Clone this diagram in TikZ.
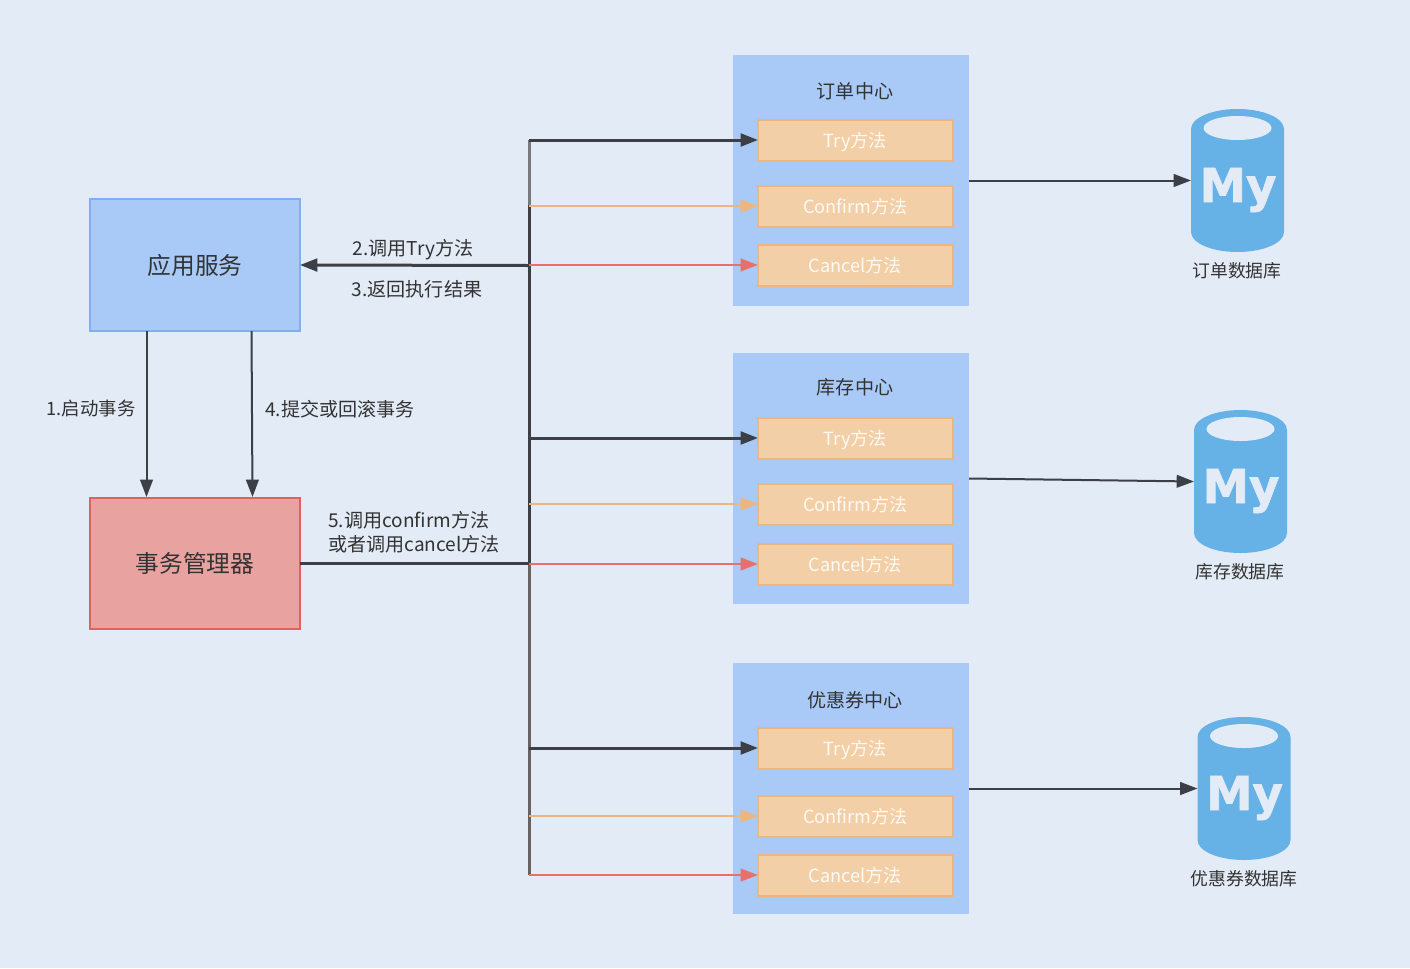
\documentclass[tikz,border=0pt]{standalone}
\usepackage{fontspec}
\setmainfont{Noto Sans CJK SC}
\newfontfamily\logofont{DejaVu Sans Bold}[FakeBold=1.5]
\usetikzlibrary{positioning,arrows.meta,shapes.geometric}
\definecolor{pagebg}{HTML}{E3EBF6}
\definecolor{bluefill}{HTML}{A9CAF7}
\definecolor{blueline}{HTML}{7FAEF2}
\definecolor{redfill}{HTML}{E8A3A0}
\definecolor{redline}{HTML}{E0625F}
\definecolor{orfill}{HTML}{F2CFA6}
\definecolor{orline}{HTML}{EDB67E}
\definecolor{dbblue}{HTML}{66B2E6}
\definecolor{darkline}{HTML}{3C4046}
\definecolor{lowline}{HTML}{666260}
\definecolor{redarrow}{HTML}{E8706C}
\definecolor{textcol}{HTML}{333333}
\tikzset{mainbox/.style={rectangle,draw,line width=1.5pt,inner sep=0pt,outer sep=0pt,minimum width=157.5pt,minimum height=98.5pt,font=\fontsize{17.8}{20}\selectfont,text=textcol},
	 centre/.style={rectangle,fill=bluefill,inner sep=0pt,outer sep=0pt,minimum width=177pt,minimum height=188.25pt},
	 method/.style={rectangle,draw=orline,fill=orfill,line width=1.5pt,inner sep=0pt,outer sep=0pt,minimum width=146.25pt,minimum height=30.75pt,text=white!90!orfill,font=\fontsize{13.6}{16}\selectfont,text height=13pt,text depth=1.5pt},
	 lbl/.style={text=textcol,font=\fontsize{14.3}{18}\selectfont,inner sep=0pt},
	 dblbl/.style={text=textcol,font=\fontsize{13.4}{18}\selectfont,inner sep=0pt},
	 mydb/.style={rectangle,inner sep=0pt,outer sep=0pt,minimum width=69.75pt,minimum height=107.25pt},
	 dbtop/.style={ellipse,fill=pagebg,inner sep=0pt,minimum width=51pt,minimum height=18pt},
	 logo/.style={text=pagebg,inner sep=0pt,anchor=base,font=\logofont\fontsize{35}{35}\selectfont},
	 blackarr/.style={draw=darkline,line width=2.25pt,-{Triangle[length=13pt,width=9.5pt]}},
	 thinarr/.style={draw=darkline,line width=1.5pt,-{Triangle[length=13pt,width=9.5pt]}},
	 orarr/.style={draw=orline,line width=1.5pt,-{Triangle[length=13pt,width=9.5pt]}},
	 redarr/.style={draw=redarrow,line width=1.5pt,-{Triangle[length=13pt,width=9.5pt]}}
	 }
\newcommand{\dbbody}[1]{\fill[dbblue] ([yshift=-15pt]#1.north west) arc[start angle=180,end angle=0,x radius=34.875pt,y radius=15pt] -- ([yshift=15pt]#1.south east) arc[start angle=0,end angle=-180,x radius=34.875pt,y radius=15pt] -- cycle;}

\begin{document}
\begin{tikzpicture}[x=0.75pt,y=-0.75pt] % distributed TCC call flow
	\fill[pagebg] (0,0) rectangle (1410,968);
	\useasboundingbox (0,0) rectangle (1410,968);
	\node[mainbox,draw=blueline,fill=bluefill] (app) at (195,265) {应用服务};
	\node[mainbox,draw=redline,fill=redfill] (txm) at (195,563.5) {事务管理器};

	% order centre
	\node[centre] (c1) at (851,180.5) {};
	\node[method] (try1) at (855.5,140) {Try方法};
	\node[method] (conf1) [below=18.75pt of try1] {Confirm方法};
	\node[method] (can1) [below=13.5pt of conf1] {Cancel方法};
	\node[lbl] (t1) at (855,91) {订单中心};
	% stock centre
	\node[centre] (c2) at (851,478.5) {};
	\node[method] (try2) at (855.5,438) {Try方法};
	\node[method] (conf2) [below=18.75pt of try2] {Confirm方法};
	\node[method] (can2) [below=14.25pt of conf2] {Cancel方法};
	\node[lbl] (t2) at (855,387) {库存中心};
	% coupon centre
	\node[centre] (c3) at (851,788.5) {};
	\node[method] (try3) at (855.5,748) {Try方法};
	\node[method] (conf3) [below=20.25pt of try3] {Confirm方法};
	\node[method] (can3) [below=13.5pt of conf3] {Cancel方法};
	\node[lbl] (t3) at (855,700) {优惠券中心};

	% databases
	\node[mydb] (db1) at (1237.5,180.5) {};
	\dbbody{db1}
	\node[dbtop] (top1) at (1237.5,128) {};
	\node[logo] (my1) at (1238,202) {My};
	\node[dblbl] (dbn1) at (1237,271) {订单数据库};
	\node[mydb] (db2) at (1240.5,481.5) {};
	\dbbody{db2}
	\node[dbtop] (top2) at (1240.5,429) {};
	\node[logo] (my2) at (1241,503) {My};
	\node[dblbl] (dbn2) at (1240,572) {库存数据库};
	\node[mydb] (db3) at (1244,788.5) {};
	\dbbody{db3}
	\node[dbtop] (top3) at (1244,736) {};
	\node[logo] (my3) at (1244.5,810) {My};
	\node[dblbl] (dbn3) at (1244,879) {优惠券数据库};

	% bus
	\coordinate (bustop) at (529,140);
	\coordinate (busor) at (529,205);
	\coordinate (busin) at (529,265.5);
	\coordinate (busout) at (529,563.5);
	\draw[line width=2.25pt,color=darkline!70] (bustop) -- (busor);
	\draw[line width=2.25pt,color=darkline] (busor) -- (busout);
	\coordinate (busend) at (bustop |- can3);
	\draw[line width=2.25pt,color=lowline] (busout) -- (busend);
	\draw[blackarr] (busin) -- (app.east);
	\draw[line width=2.25pt,color=darkline] (txm.east) -- (busout);

	\draw[blackarr] (bustop) -- (try1.west);
	\draw[orarr] (bustop |- conf1) -- (conf1.west);
	\draw[redarr] (bustop |- can1) -- (can1.west);
	\draw[blackarr] (bustop |- try2) -- (try2.west);
	\draw[orarr] (bustop |- conf2) -- (conf2.west);
	\draw[redarr] (bustop |- can2) -- (can2.west);
	\draw[blackarr] (bustop |- try3) -- (try3.west);
	\draw[orarr] (bustop |- conf3) -- (conf3.west);
	\draw[redarr] (busend) -- (can3.west);

	\draw[thinarr] (c1.east) -- (db1.west);
	\draw[thinarr] (c2.east) -- (db2.west);
	\draw[thinarr] (c3.east) -- (db3.west);

	% app to manager
	\coordinate (s1) at (146.5,331);
	\coordinate (e1) at (146.5,497);
	\coordinate (s4) at (251.5,331);
	\coordinate (e4) at (252.5,497);
	\draw[thinarr] (s1) -- (e1);
	\draw[thinarr] (s4) -- (e4);

	\node[lbl,font=\fontsize{13.8}{18}\selectfont] (l1) at (91,409) {1.启动事务};
	\node[lbl] (l2) at (413,249.5) {2.调用Try方法};
	\node[lbl] (l3) at (417,289) {3.返回执行结果};
	\node[lbl] (l4) at (340,409) {4.提交或回滚事务};
	\node[lbl,align=left,anchor=west] (l5) at (328,532) {5.调用confirm方法\\或者调用cancel方法};
\end{tikzpicture}
\end{document}
